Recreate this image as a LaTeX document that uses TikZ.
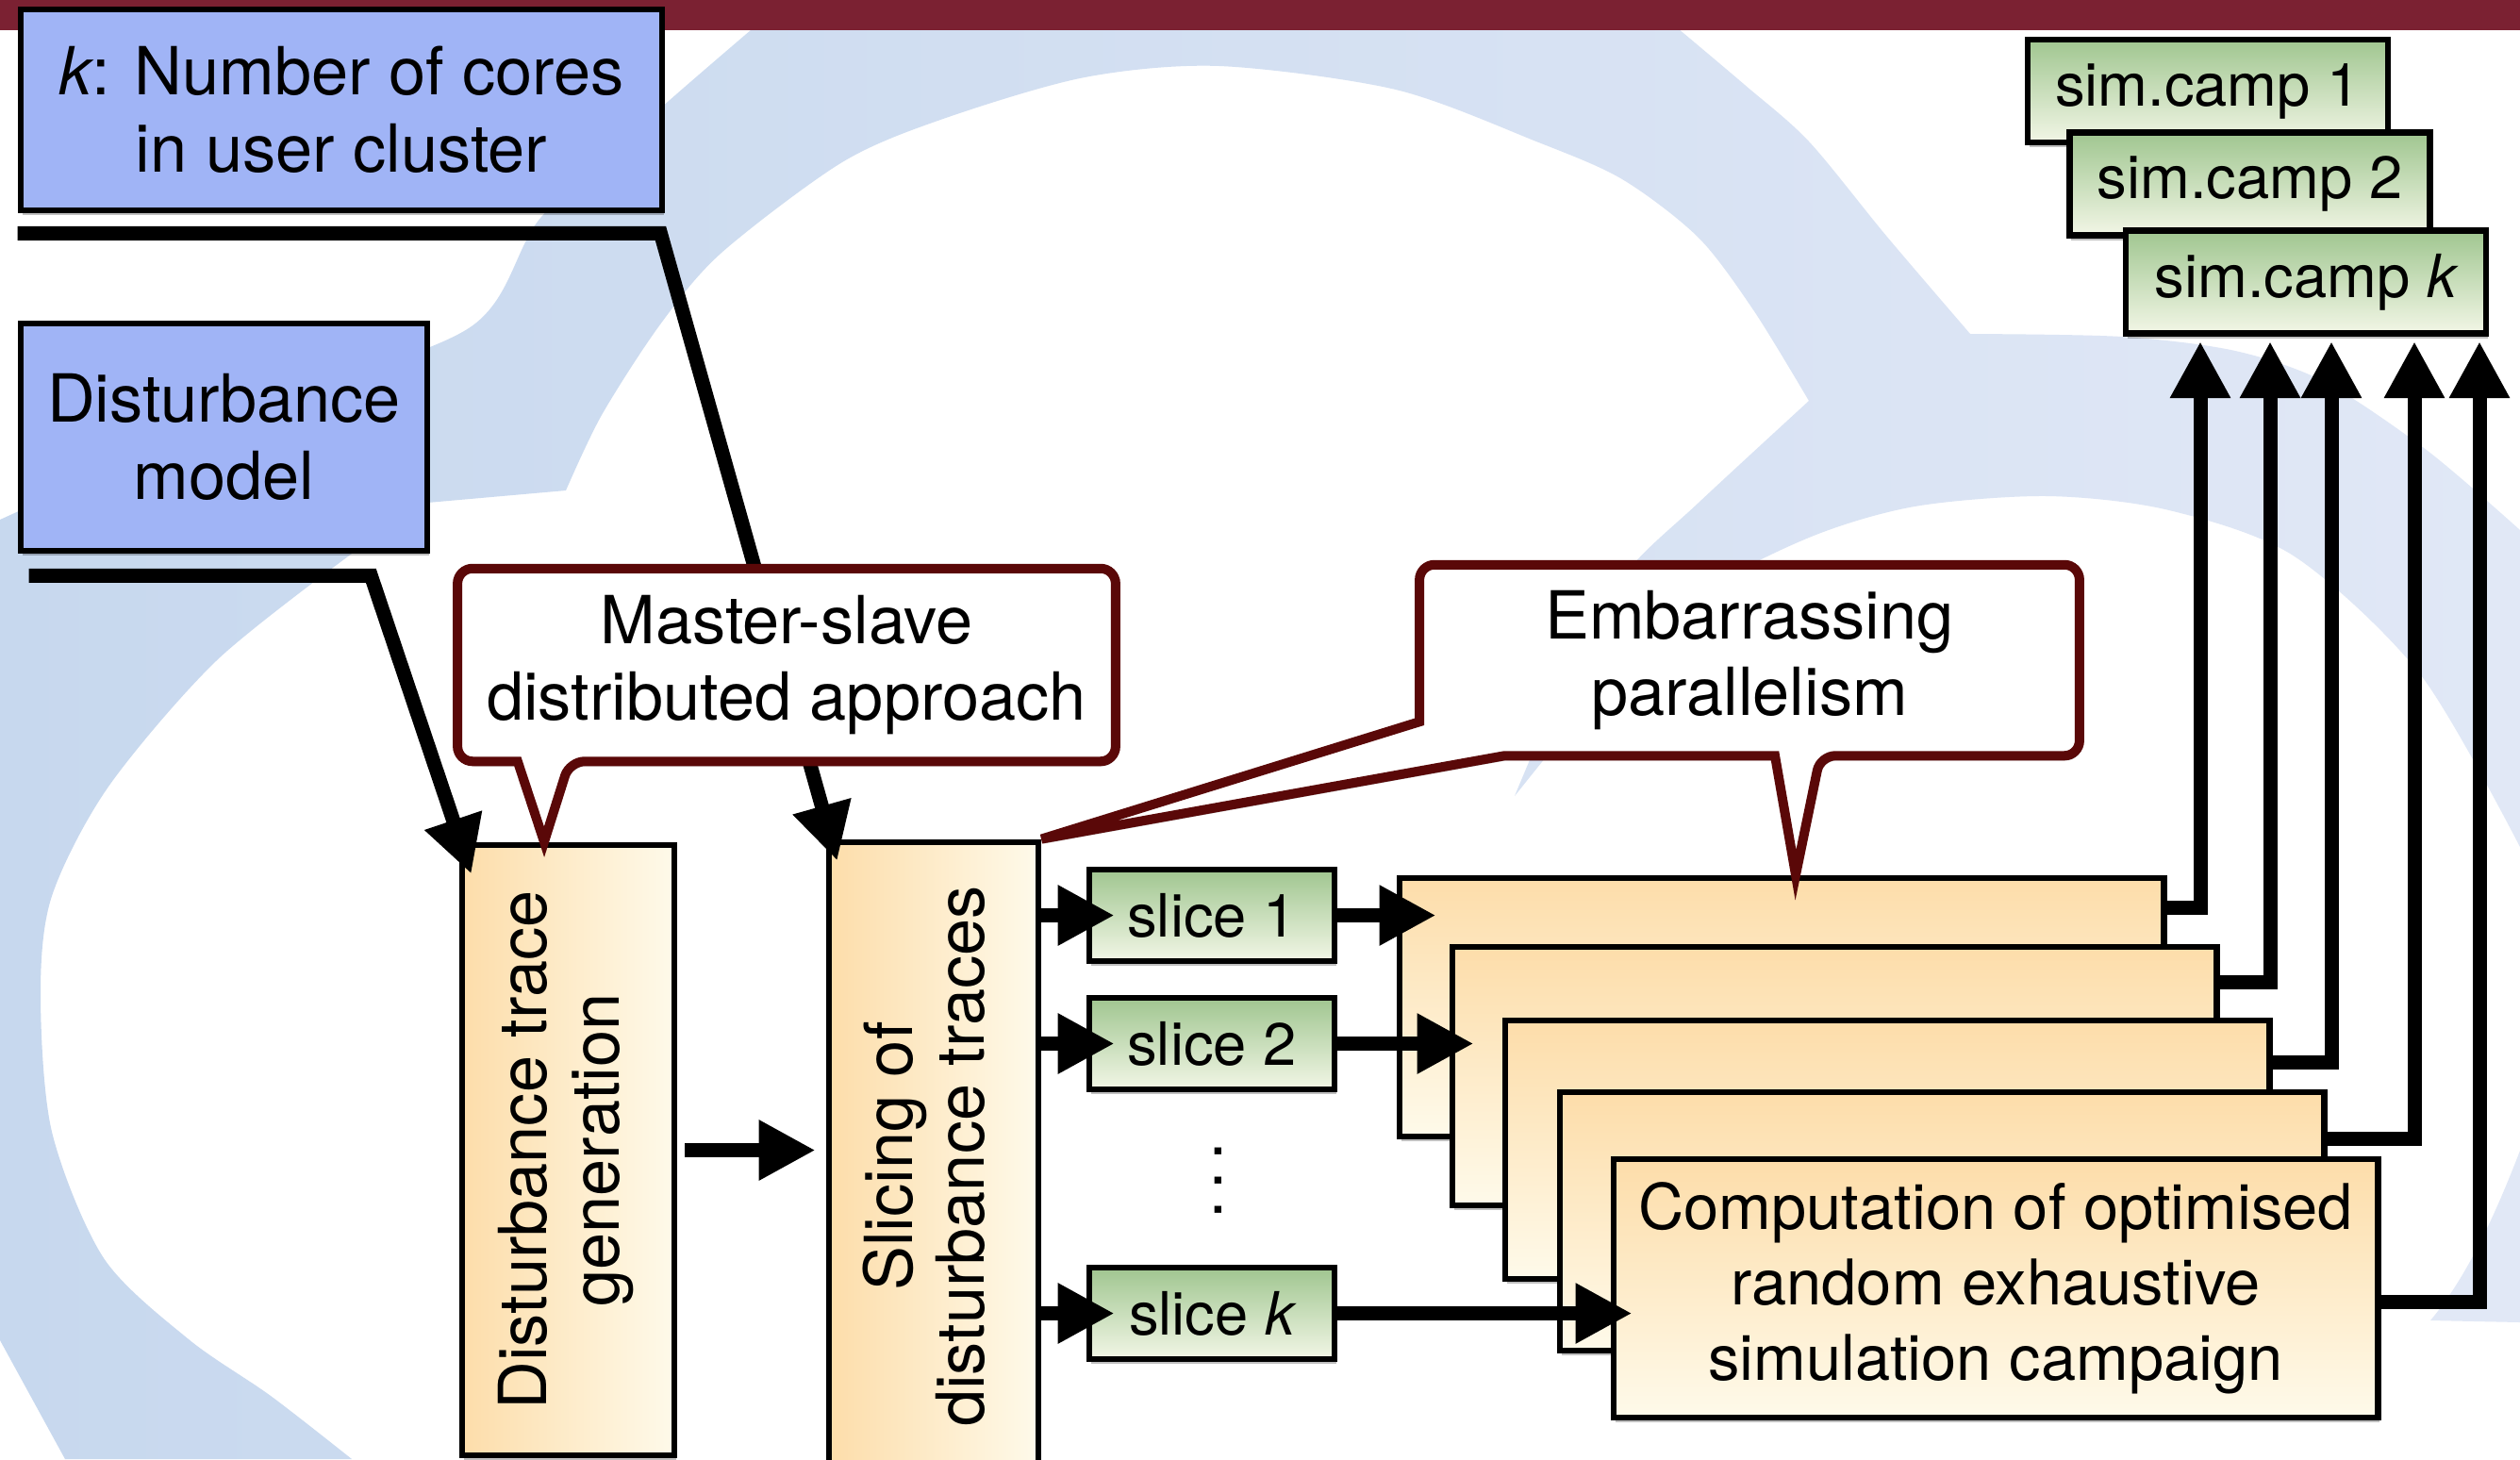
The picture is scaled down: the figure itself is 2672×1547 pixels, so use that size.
\documentclass[tikz,border=0pt]{standalone}
\usepackage{fontspec}
\setmainfont{TeX Gyre Heros}
\usepackage{graphicx}
\usetikzlibrary{arrows.meta,shadows,calc}

\definecolor{barred}{RGB}{123,33,50}
\definecolor{boxblue}{RGB}{160,180,246}
\definecolor{orA}{RGB}{253,221,170}
\definecolor{orB}{RGB}{254,250,234}
\definecolor{grA}{RGB}{160,198,144}
\definecolor{grB}{RGB}{242,246,230}
\definecolor{callred}{RGB}{90,8,8}
\definecolor{wmA}{RGB}{199,216,238}
\definecolor{wmB}{RGB}{225,232,246}

\pgfdeclarelayer{wm}
\pgfdeclarelayer{over}
\pgfdeclarelayer{top}
\pgfsetlayers{wm,main,over,top}

\tikzset{
  softshadow/.style={drop shadow={shadow xshift=0.02cm, shadow yshift=-0.05cm, opacity=0.25, fill=black}},
  base/.style={draw=black, line width=0.065cm, inner sep=0pt, softshadow},
  txt/.style={font=\fontsize{20}{23.3}\selectfont, align=center},
  inbox/.style={base, txt, fill=boxblue},
  vbox/.style={base, font=\fontsize{20}{21.8}\selectfont, left color=orA, right color=orB},
  stackbox/.style={base, txt, font=\fontsize{19}{22.8}\selectfont, top color=orA, bottom color=orB,
                   minimum width=8.1cm, minimum height=2.74cm},
  greenbox/.style={base, txt, font=\fontsize{18}{21}\selectfont, top color=grA, bottom color=grB},
  slicebox/.style={greenbox, minimum width=2.6cm, minimum height=0.97cm},
  simbox/.style={greenbox, minimum width=3.82cm, minimum height=1.09cm},
  calltext/.style={txt, inner sep=0pt},
  callout/.style={draw=callred, line width=0.1cm, fill=white, line join=miter, softshadow},
  conn/.style={line width=0.15cm, line join=miter, -{Triangle[length=0.6cm,width=0.6cm]}},
}

\begin{document}
\begin{tikzpicture}[x=0.01cm, y=-0.01cm]
\useasboundingbox (0,0) rectangle (2672,1547);

% background and watermark swirl
\begin{pgfonlayer}{wm}
\fill[white] (0,0) rectangle (2672,1547);
\shade[left color=wmA, right color=wmB]
  (810,20) -- (1767,20)
  -- plot[smooth] coordinates {(1767,20) (1850,90) (1918,150) (2000,250) (2089,354)}
  -- plot[smooth] coordinates {(2089,354) (2250,357) (2370,372) (2465,405) (2574,478) (2672,562)}
  -- (2672,898)
  -- plot[smooth] coordinates {(2672,898) (2567,716) (2433,590) (2300,541) (2171,526) (2030,537) (1918,570) (1800,632) (1700,730) (1606,844)}
  -- plot[smooth] coordinates {(1606,844) (1660,720) (1723,609) (1801,533) (1918,425)}
  -- plot[smooth] coordinates {(1918,425) (1860,330) (1801,252) (1720,190) (1629,150) (1480,95) (1293,70) (1150,82) (1000,126) (893,172) (765,268) (700,344) (638,440) (600,520)}
  -- (453,533) -- (400,560)
  -- plot[smooth] coordinates {(373,587) (230,700) (115,834) (55,950) (43,1054) (55,1200) (110,1334) (200,1420) (287,1480) (373,1547)}
  -- (69,1547) -- (0,1421) -- (0,551)
  -- plot[smooth] coordinates {(0,551) (250,440) (497,348) (574,230) (700,115) (810,20)}
  -- cycle;
\fill[wmB] (2577,1400) -- (2672,1402) -- (2672,1220)
  .. controls (2645,1290) and (2615,1355) .. (2577,1400) -- cycle;
\fill[barred] (0,0) rectangle (2672,32);
\end{pgfonlayer}

% inputs
\node[inbox, minimum width=6.8cm, minimum height=2.13cm] (kbox) at (362,116.5)
  {{\itshape k}: Number of cores\\in user cluster};
\node[inbox, minimum width=4.31cm, minimum height=2.41cm] (dmod) at (237.5,463.5)
  {Disturbance\\model};

% master stages
\node[vbox, minimum width=2.25cm, minimum height=6.47cm] (dtg) at (602.5,1219.5)
  {\rotatebox{90}{\begin{tabular}{@{}c@{}}Disturbance trace\\generation\end{tabular}}};
\node[vbox, minimum width=2.22cm, minimum height=6.66cm] (slc) at (990,1226)
  {\rotatebox{90}{\begin{tabular}{@{}c@{}}Slicing of\\disturbance traces\end{tabular}}};

% slices
\node[slicebox] (sl1) at (1285,970.5) {slice 1};
\node[slicebox] (sl2) at (1285,1106.5) {slice 2};
\node[slicebox] (slk) at (1285,1392.5) {slice {\itshape k}};
\node[font=\fontsize{20}{24}\selectfont, inner sep=0pt] (dots) at (1292,1252)
  {\rotatebox{90}{.\kern3.3pt.\kern3.3pt.}};

% stack of parallel campaigns
\node[stackbox] (s1) at (1889,1068) {};
\node[stackbox] (s2) at (1945,1141) {};
\node[stackbox] (s3) at (2001,1219) {};
\node[stackbox] (s4) at (2059,1295) {};
\node[stackbox] (s5) at (2116,1366) {Computation of optimised\\random exhaustive\\simulation campaign};

% results
\node[simbox] (sc1) at (2341,96.5) {sim.camp 1};
\node[simbox] (sc2) at (2385.5,195) {sim.camp 2};
\node[simbox] (sck) at (2445,299) {sim.camp {\itshape k}};

\coordinate (o1) at (2333,362);
\coordinate (o2) at (2407,362);
\coordinate (o3) at (2472,362);
\coordinate (o4) at (2560,362);
\coordinate (o5) at (2629,362);

% connectors
\draw[conn] ([yshift=-0.21cm]kbox.south west) -- ([xshift=-0.05cm,yshift=-0.21cm]kbox.south east)
  -- ([xshift=0.12cm,yshift=-0.23cm]slc.north west);
\draw[conn] ([xshift=0.12cm,yshift=-0.23cm]dmod.south west) -- ([xshift=-0.63cm,yshift=-0.23cm]dmod.south east)
  -- ([xshift=0.13cm,yshift=-0.34cm]dtg.north west);
\draw[conn, shorten <=0.08cm, shorten >=0.11cm] (dtg.east) -- (dtg.east -| slc.west);

\draw[conn] (slc.east |- sl1.west) -- ([xshift=0.3cm]sl1.west);
\draw[conn] (slc.east |- sl2.west) -- ([xshift=0.3cm]sl2.west);
\draw[conn] (slc.east |- slk.west) -- ([xshift=0.3cm]slk.west);

\draw[conn] (sl1.east) -- ([xshift=0.42cm]s1.west |- sl1.east);
\draw[conn] (sl2.east) -- ([xshift=0.26cm]s2.west |- sl2.east);
\draw[conn] (slk.east) -- ([xshift=0.23cm]s5.west |- slk.east);

\draw[conn] ([yshift=-0.35cm]s1.north east) -| (o1);
\draw[conn] ([yshift=-0.41cm]s2.north east) -| (o2);
\draw[conn] ([yshift=-0.48cm]s3.north east) -| (o3);
\draw[conn] ([yshift=-0.53cm]s4.north east) -| (o4);
\draw[conn] ([yshift=-0.14cm]s5.east) -| (o5);

% callouts
\begin{pgfonlayer}{top}
\node[calltext, minimum width=6.96cm, minimum height=2.03cm] (ms) at (834,705)
  {Master-slave\\distributed approach};
\node[calltext, minimum width=6.98cm, minimum height=2.01cm] (ep) at (1855,700)
  {Embarrassing\\parallelism};
\end{pgfonlayer}

\begin{pgfonlayer}{over}
\draw[callout] (ms.west) [rounded corners=0.16cm] -- (ms.north west) -- (ms.north east)
  -- (ms.south east) -- ([xshift=-2.3cm]ms.south) [sharp corners]
  -- ([xshift=-0.255cm]dtg.north) -- ([xshift=-2.85cm]ms.south) [rounded corners=0.16cm]
  -- (ms.south west) -- cycle;
\draw[callout] (ep.west) [rounded corners=0.16cm] -- (ep.north west) -- (ep.north east)
  -- (ep.south east) -- ([xshift=0.75cm]ep.south) [sharp corners]
  -- ([xshift=0.15cm]s1.north) -- ([xshift=0.27cm]ep.south)
  -- ([xshift=0.9cm]ep.south west) -- (slc.north east)
  -- ([yshift=0.36cm]ep.south west) -- cycle;
\end{pgfonlayer}
\end{tikzpicture}
\end{document}
